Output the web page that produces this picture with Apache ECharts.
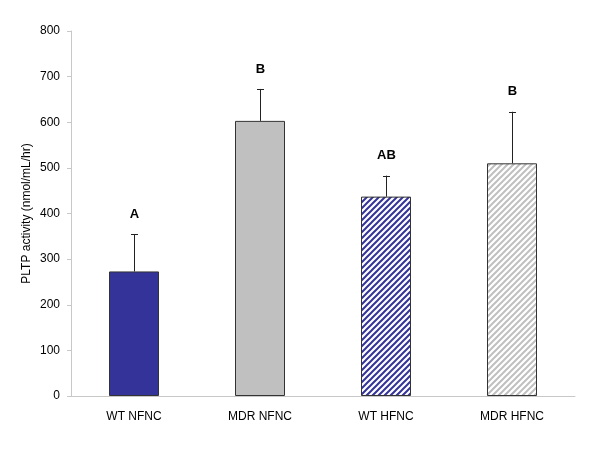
<!DOCTYPE html>
<html>
<head>
<meta charset="utf-8">
<script src="https://cdn.jsdelivr.net/npm/echarts@6/dist/echarts.min.js"></script>
<style>html,body{margin:0;padding:0;background:#fff}#c{width:600px;height:454px}</style>
</head>
<body>
<div id="c"></div>
<script>
var categories = ['WT NFNC', 'MDR NFNC', 'WT HFNC', 'MDR HFNC'];
var means = [273, 603, 437, 510];
var errorTops = [355, 673, 483, 623];
var letters = ['A', 'B', 'AB', 'B'];
var yTicks = [0, 100, 200, 300, 400, 500, 600, 700, 800];

function stripe(color) {
  var s = 6;
  var c = document.createElement('canvas');
  c.width = s; c.height = s;
  var g = c.getContext('2d');
  g.fillStyle = '#fff';
  g.fillRect(0, 0, s, s);
  g.strokeStyle = color;
  g.lineWidth = 2;
  g.beginPath();
  g.moveTo(-1, s + 1); g.lineTo(s + 1, -1);
  g.moveTo(-1, 1); g.lineTo(1, -1);
  g.moveTo(s - 1, s + 1); g.lineTo(s + 1, s - 1);
  g.stroke();
  return { image: c, repeat: 'repeat' };
}

var fills = ['#333399', '#c0c0c0', stripe('#333399'), stripe('#c0c0c0')];

var chart = echarts.init(document.getElementById('c'));
var font = 'Liberation Sans, Arial, sans-serif';
chart.setOption({
  animation: false,
  grid: { left: 71, right: 25, top: 31, bottom: 58 },
  xAxis: {
    type: 'category',
    data: categories,
    axisLine: { lineStyle: { color: '#c8c8c8' } },
    axisTick: { show: false },
    axisLabel: { color: '#000', fontSize: 12, fontFamily: font, margin: 15 }
  },
  yAxis: {
    type: 'value',
    min: yTicks[0], max: yTicks[yTicks.length - 1], interval: 100,
    name: 'PLTP activity (nmol/mL/hr)',
    nameLocation: 'middle',
    nameRotate: 90,
    nameGap: 38,
    nameMoveOverlap: false,
    nameTextStyle: { color: '#000', fontSize: 12, fontFamily: font },
    axisLine: { show: true, lineStyle: { color: '#c8c8c8' } },
    axisTick: { show: true, length: 4, lineStyle: { color: '#c8c8c8' } },
    splitLine: { show: false },
    axisLabel: { color: '#000', fontSize: 12, fontFamily: font, margin: 11 }
  },
  series: [
    {
      type: 'bar',
      barWidth: 50,
      data: means.map(function (v, i) {
        return { value: v, itemStyle: { color: fills[i], borderColor: '#333', borderWidth: 1 } };
      })
    },
    {
      type: 'custom',
      data: categories.map(function (c, i) { return [i, means[i], errorTops[i]]; }),
      renderItem: function (params, api) {
        var i = api.value(0);
        var base = api.coord([i, api.value(1)]);
        var top = api.coord([i, api.value(2)]);
        var x = Math.round(base[0]) + 0.5;
        return {
          type: 'group',
          children: [
            { type: 'line', shape: { x1: x, y1: base[1], x2: x, y2: top[1] }, style: { stroke: '#222', lineWidth: 1 } },
            { type: 'line', shape: { x1: x - 3.5, y1: Math.round(top[1]) + 0.5, x2: x + 3.5, y2: Math.round(top[1]) + 0.5 }, style: { stroke: '#222', lineWidth: 1 } },
            { type: 'text', style: { text: letters[params.dataIndex], x: x, y: top[1] - 20, align: 'center', verticalAlign: 'middle', fill: '#000', font: 'bold 13px ' + font } }
          ]
        };
      },
      z: 5
    }
  ]
});
</script>
</body>
</html>
